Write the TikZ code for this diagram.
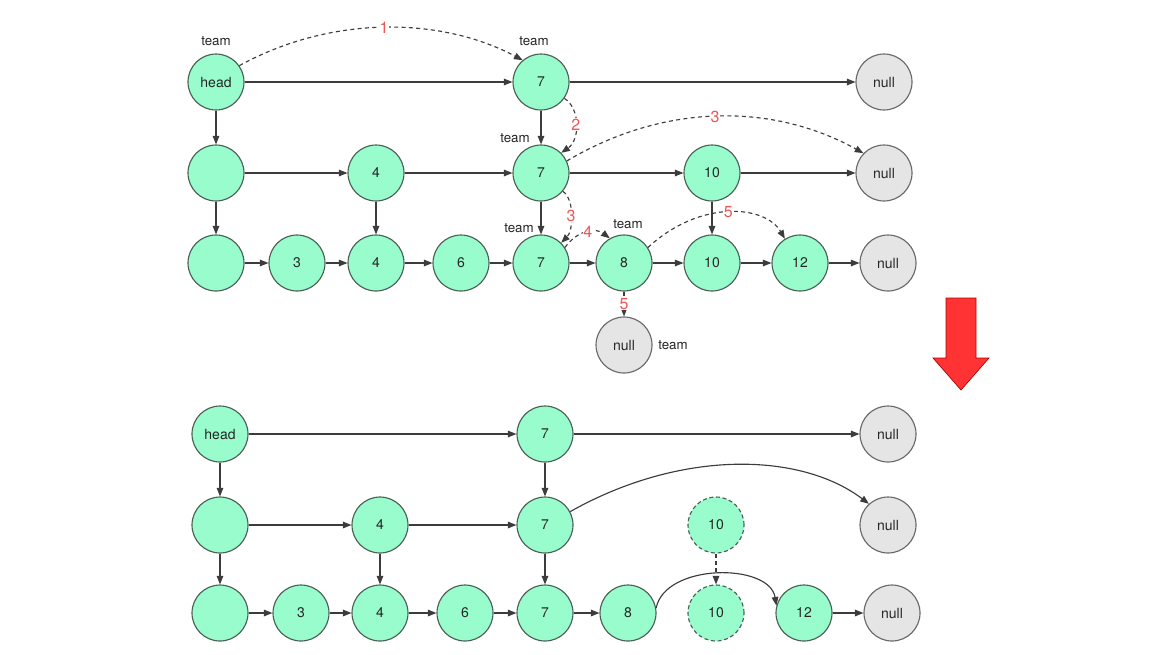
\documentclass[tikz,border=0pt]{standalone}
\usepackage{fontspec}
\setmainfont{TeX Gyre Heros}
\usetikzlibrary{arrows.meta}

\definecolor{nodegreen}{RGB}{153,252,204}
\definecolor{nodeedge}{RGB}{75,95,85}
\definecolor{nullgray}{RGB}{229,229,229}
\definecolor{nulledge}{RGB}{105,105,105}
\definecolor{linkgray}{RGB}{60,60,60}
\definecolor{stepred}{RGB}{240,85,85}
\definecolor{bigred}{RGB}{255,51,51}

\tikzset{every picture/.style={line width=0.85pt}}
\tikzset{
  listnode/.style={circle, draw=nodeedge, fill=nodegreen, minimum size=42pt, inner sep=0pt,
    font=\fontsize{10.5}{12}\selectfont, text=black!85},
  nullnode/.style={listnode, draw=nulledge, fill=nullgray},
  gonenode/.style={listnode, dash pattern={on 3pt off 2pt}},
  teamlbl/.style={inner sep=0.75pt, font=\fontsize{10}{12}\selectfont, text=black!85},
  link/.style={draw=linkgray, -{Triangle[length=6.5pt,width=5pt]}},
  search/.style={link, dash pattern={on 3pt off 2.5pt}},
  steplbl/.style={fill=white, inner sep=0.5pt, text=stepred, font=\fontsize{12}{13}\selectfont}
}

\begin{document}
\begin{tikzpicture}[x=0.75pt,y=0.75pt,yscale=-1,xscale=1]
\path[use as bounding box] (0,0) rectangle (1173,654);

%Shape: Circle (before)
\node[listnode] (th) at (216,82) {head};
\node[listnode] (t17) at (541,82) {7};
\node[nullnode] (t1n) at (884,82) {null};
\node[listnode] (t2e) at (216,173) {};
\node[listnode] (t24) at (376,173) {4};
\node[listnode] (t27) at (541,173) {7};
\node[listnode] (t210) at (712,173) {10};
\node[nullnode] (t2n) at (884,173) {null};
\node[listnode] (t3e) at (216,263) {};
\node[listnode] (t33) at (297,263) {3};
\node[listnode] (t34) at (376,263) {4};
\node[listnode] (t36) at (461,263) {6};
\node[listnode] (t37) at (541,263) {7};
\node[listnode] (t38) at (624,263) {8};
\node[listnode] (t310) at (712,263) {10};
\node[listnode] (t312) at (800,263) {12};
\node[nullnode] (t3n) at (888,263) {null};
\node[nullnode] (t8n) at (624,345) {null};

% Text Node
\node[teamlbl] (lth) at (216,41) {team};
\node[teamlbl] (lt17) at (534,41) {team};
\node[teamlbl] (lt27) at (515,138) {team};
\node[teamlbl] (lt37) at (519,228) {team};
\node[teamlbl] (lt38) at (628,224) {team};
\node[teamlbl] (lt8n) at (673,345) {team};

%Straight Lines
\draw[link] (th) -- (t17);
\draw[link] (t17) -- (t1n);
\draw[link] (th) -- (t2e);
\draw[link] (t17) -- (t27);
\draw[link] (t2e) -- (t24);
\draw[link] (t24) -- (t27);
\draw[link] (t27) -- (t210);
\draw[link] (t210) -- (t2n);
\draw[link] (t2e) -- (t3e);
\draw[link] (t24) -- (t34);
\draw[link] (t27) -- (t37);
\draw[link] (t210) -- (t310);
\draw[link] (t3e) -- (t33);
\draw[link] (t33) -- (t34);
\draw[link] (t34) -- (t36);
\draw[link] (t36) -- (t37);
\draw[link] (t37) -- (t38);
\draw[link] (t38) -- (t310);
\draw[link] (t310) -- (t312);
\draw[link] (t312) -- (t3n);

%Curve Lines (search steps)
\draw[search] (th.35) .. controls +(91,-50) and +(-83,-44) .. node[steplbl] {1} (t17.130);
\draw[search] (t17.-35) .. controls +(16,10) and +(19,-13) .. node[steplbl] {2} (t27.45);
\draw[search] (t27.25) .. controls +(94,-56) and +(-94,-52) .. node[steplbl] {3} (t2n.136);
\draw[search] (t27.-40) .. controls +(12,8) and +(12,-12) .. node[steplbl] {3} (t37.45);
\draw[search] (t37.33) .. controls +(14,-19) and +(-13,-10) .. node[steplbl] {4} (t38.120);
\draw[search] (t38.33) .. controls +(52,-48) and +(-20,-34) .. node[steplbl] {5} (t312.122);
\draw[search] (t38.south) -- node[steplbl] {5} (t8n.north);

%Shape: Arrow
\draw[draw=red!70!black, fill=bigred, line width=0.5pt] (946,298) -- (976,298) -- (976,358) -- (989,358)
  -- (961,390) -- (933,358) -- (946,358) -- cycle;

%Shape: Circle (after)
\node[listnode] (bh) at (220,434) {head};
\node[listnode] (b17) at (545,434) {7};
\node[nullnode] (b1n) at (888,434) {null};
\node[listnode] (b2e) at (220,525) {};
\node[listnode] (b24) at (380,525) {4};
\node[listnode] (b27) at (545,525) {7};
\node[gonenode] (b210) at (716,525) {10};
\node[nullnode] (b2n) at (888,525) {null};
\node[listnode] (b3e) at (220,613) {};
\node[listnode] (b33) at (301,613) {3};
\node[listnode] (b34) at (380,613) {4};
\node[listnode] (b36) at (465,613) {6};
\node[listnode] (b37) at (545,613) {7};
\node[listnode] (b38) at (628,613) {8};
\node[gonenode] (b310) at (716,613) {10};
\node[listnode] (b312) at (804,613) {12};
\node[nullnode] (b3n) at (892,613) {null};

%Straight Lines
\draw[link] (bh) -- (b17);
\draw[link] (b17) -- (b1n);
\draw[link] (bh) -- (b2e);
\draw[link] (b17) -- (b27);
\draw[link] (b2e) -- (b24);
\draw[link] (b24) -- (b27);
\draw[link] (b2e) -- (b3e);
\draw[link] (b24) -- (b34);
\draw[link] (b27) -- (b37);
\draw[search] (b210) -- (b310);
\draw[link] (b3e) -- (b33);
\draw[link] (b33) -- (b34);
\draw[link] (b34) -- (b36);
\draw[link] (b36) -- (b37);
\draw[link] (b37) -- (b38);
\draw[link] (b312) -- (b3n);

%Curve Lines
\draw[link] (b27.28) .. controls +(110,-62) and +(-69,-52) .. (b2n.132);
\draw[link] (b38.10) .. controls +(9,-45) and +(-7,-43) .. (b312.165);

\end{tikzpicture}
\end{document}
